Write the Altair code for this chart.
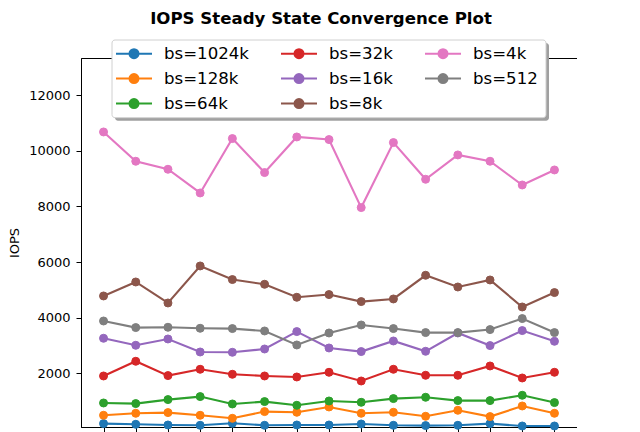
import altair as alt
import pandas as pd

steps = list(range(15))
series = ["bs=1024k", "bs=128k", "bs=64k", "bs=32k", "bs=16k", "bs=8k", "bs=4k", "bs=512"]
colors = ["#1f77b4", "#ff7f0e", "#2ca02c", "#d62728", "#9467bd", "#8c564b", "#e377c2", "#7f7f7f"]

iops_1024k = [190, 165, 140, 129, 201, 129, 140, 140, 176, 129, 119, 129, 190, 104, 104]
iops_128k = [489, 561, 586, 489, 381, 622, 597, 788, 561, 597, 453, 669, 442, 824, 561]
iops_64k = [932, 910, 1054, 1162, 896, 982, 849, 1004, 957, 1090, 1137, 1018, 1018, 1209, 946]
iops_32k = [1903, 2432, 1917, 2144, 1964, 1903, 1867, 2036, 1723, 2144, 1928, 1928, 2263, 1831, 2036]
iops_16k = [3259, 3007, 3234, 2766, 2755, 2874, 3500, 2910, 2781, 3162, 2791, 3450, 2996, 3536, 3151]
iops_8k = [4781, 5284, 4529, 5860, 5371, 5201, 4734, 4831, 4579, 4673, 5525, 5104, 5356, 4385, 4903]
iops_4k = [10680, 9626, 9338, 8486, 10442, 9219, 10500, 10406, 7960, 10298, 8978, 9853, 9626, 8773, 9313]
iops_512 = [3881, 3644, 3655, 3619, 3608, 3522, 3018, 3450, 3737, 3608, 3464, 3464, 3572, 3968, 3464]

all_values = [iops_1024k, iops_128k, iops_64k, iops_32k, iops_16k, iops_8k, iops_4k, iops_512]
y_ticks = [2000, 4000, 6000, 8000, 10000, 12000]

rows = []
for name, vals in zip(series, all_values):
    for s, v in zip(steps, vals):
        rows.append({"step": s, "iops": v, "series": name})
df = pd.DataFrame(rows)

FONT = "DejaVu Sans"

x_enc = alt.X("step:Q", scale=alt.Scale(domain=[-0.7, 14.7], nice=False, zero=False),
              axis=alt.Axis(values=steps, labels=False, title=None, ticks=True, tickSize=5,
                            domain=True, grid=False))
y_enc = alt.Y("iops:Q", scale=alt.Scale(domain=[68, 13340], nice=False, zero=False),
              axis=alt.Axis(values=y_ticks, format="d", title="IOPS",
                            tickSize=5, labelPadding=6, titlePadding=7, grid=False,
                            labelFontSize=13, titleFontSize=13, titleFontWeight="normal"))

# legend symbol: line with a dot in the middle (matplotlib style handle)
sym_path = "M-1.66,0H5.54M1.04,0A0.9,0.9 0 1,0 2.84,0A0.9,0.9 0 1,0 1.04,0Z"

legend = alt.Legend(
    title=None, orient="none", legendX=30, legendY=-17.7, columns=3,
    symbolType=sym_path, symbolSize=100, symbolStrokeWidth=2, symbolOpacity=1,
    labelFontSize=16.6, labelFont=FONT, labelColor="black", labelOffset=31.4,
    columnPadding=28, rowPadding=7,
    padding=5,
)

color_scale = alt.Scale(domain=series, range=colors)

one_row = pd.DataFrame({"k": [0]})
shadow = alt.Chart(one_row).mark_rect(color="#a0a0a0", cornerRadius=3).encode(
    x=alt.value(34), x2=alt.value(468), y=alt.value(-15), y2=alt.value(62.7)
)
box = alt.Chart(one_row).mark_rect(fill="white", stroke="#d0d0d0", strokeWidth=1,
                                   cornerRadius=3).encode(
    x=alt.value(31), x2=alt.value(465), y=alt.value(-18), y2=alt.value(59.7)
)

lines = alt.Chart(df).mark_line(strokeWidth=2.1).encode(
    x=x_enc, y=y_enc,
    stroke=alt.Stroke("series:N", scale=color_scale, legend=legend),
    detail="series:N",
    order="step:Q",
)

points = alt.Chart(df).mark_point(filled=True, size=64, opacity=1, strokeWidth=1).encode(
    x=x_enc, y=y_enc,
    fill=alt.Fill("series:N", scale=color_scale, legend=legend),
    stroke=alt.Stroke("series:N", scale=color_scale, legend=legend),
)

chart = alt.layer(lines, points, shadow, box).properties(
    width=496, height=369,
    padding={"left": 0, "top": 2, "right": 0, "bottom": 0},
    title=alt.Title("IOPS Steady State Convergence Plot", fontSize=16.6, fontWeight="bold",
                    font=FONT, color="black", dx=-8, offset=12),
).configure_view(stroke="black", strokeWidth=1).configure_axis(
    domainColor="black", tickColor="black", labelColor="black", titleColor="black",
    labelFont=FONT, titleFont=FONT, domainWidth=1, tickWidth=1,
).configure_legend(symbolStrokeWidth=2)

chart.save("out.html", embed_options={"renderer": "svg", "actions": False})
